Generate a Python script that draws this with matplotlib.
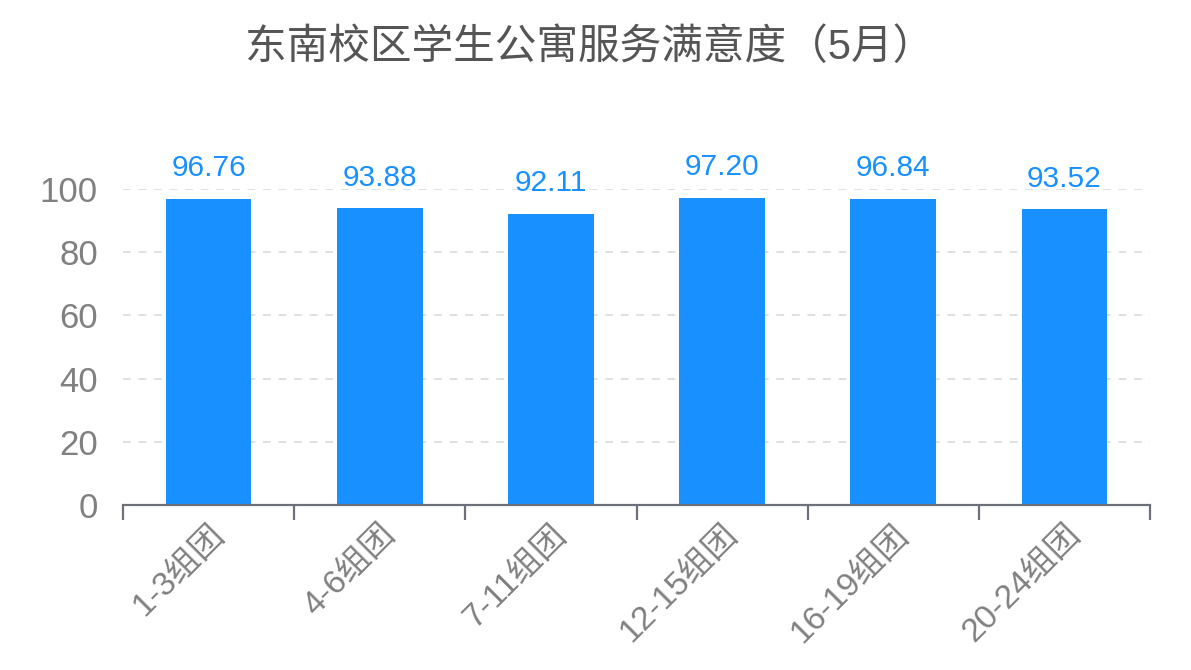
import matplotlib
matplotlib.use('Agg')
import matplotlib.pyplot as plt
import numpy as np

plt.rcParams['font.family'] = ['Liberation Sans', 'Noto Sans CJK SC', 'DejaVu Sans']

# chart data
title = '东南校区学生公寓服务满意度（5月）'
groups = ['1-3组团', '4-6组团', '7-11组团', '12-15组团', '16-19组团', '20-24组团']
scores = [96.76, 93.88, 92.11, 97.20, 96.84, 93.52]
y_ticks = [0, 20, 40, 60, 80, 100]

bar_color = '#1890FF'
axis_color = '#6E7079'
text_gray = '#808080'

fig = plt.figure(figsize=(11.91, 6.70), dpi=100)
ax = fig.add_axes([123/1191, 1 - 505/670, (1150-123)/1191, (505-189)/670])

x = np.arange(len(groups))
ax.bar(x, scores, width=0.5, color=bar_color, zorder=3)

# value labels above bars
for xi, v in zip(x, scores):
    ax.text(xi, v + 5.3, '%.2f' % v, ha='center', va='bottom',
            fontsize=21.5, color=bar_color, clip_on=False)

ax.set_xlim(-0.5, len(groups) - 0.5)
ax.set_ylim(0, 100)
ax.set_yticks(y_ticks)
ax.set_yticklabels([str(t) for t in y_ticks], fontsize=25, color=text_gray)
ax.tick_params(axis='y', length=0, pad=18)

# category ticks at boundaries, labels at centers
ax.set_xticks(np.arange(len(groups) + 1) - 0.5)
ax.set_xticklabels([])
ax.tick_params(axis='x', which='major', length=11, width=1.6, color=axis_color)
ax.set_xticks(x, minor=True)
ax.set_xticklabels(groups, minor=True, rotation=45, ha='right',
                   rotation_mode='anchor', fontsize=24, color=text_gray)
ax.tick_params(axis='x', which='minor', length=0, pad=10)

ax.grid(axis='y', color='#E0E0E0', linestyle=(0, (4, 4)), linewidth=1.4, zorder=0)
for s in ['top', 'right', 'left']:
    ax.spines[s].set_visible(False)
ax.spines['bottom'].set_color(axis_color)
ax.spines['bottom'].set_linewidth(1.6)
ax.spines['bottom'].set_zorder(4)

fig.text(590/1191, 1 - 48/670, title, ha='center', va='center',
         fontsize=30, color='#555555')

fig.savefig('out.png', dpi=100)
